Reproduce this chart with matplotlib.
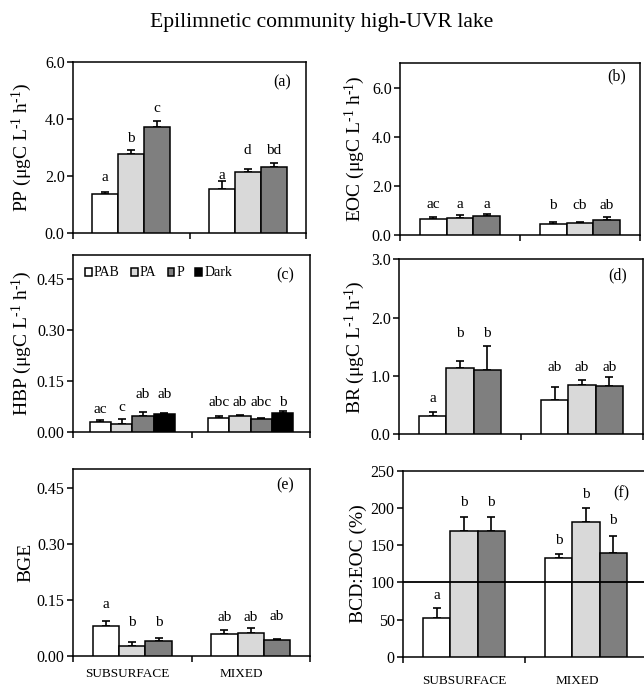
import matplotlib
matplotlib.use('Agg')
import matplotlib.pyplot as plt
from matplotlib.ticker import FormatStrFormatter, FixedLocator

plt.rcParams['font.family'] = ['Liberation Serif', 'DejaVu Serif']
plt.rcParams['mathtext.fontset'] = 'custom'
plt.rcParams['mathtext.rm'] = 'Liberation Serif'
plt.rcParams['mathtext.it'] = 'Liberation Serif:italic'

# ---------------- data ----------------
sites = ['SUBSURFACE', 'MIXED']
treat3 = ['PAB', 'PA', 'P']
treat4 = ['PAB', 'PA', 'P', 'Dark']

pp_mean = [[1.38, 2.78, 3.74], [1.55, 2.14, 2.34]]
pp_err = [[0.08, 0.15, 0.20], [0.28, 0.13, 0.13]]
pp_let = [['a', 'b', 'c'], ['a', 'd', 'bd']]
pp_let_y = [[1.85, 3.21, 4.25], [1.92, 2.78, 2.78]]

eoc_mean = [[0.65, 0.68, 0.77], [0.44, 0.49, 0.61]]
eoc_err = [[0.10, 0.12, 0.09], [0.07, 0.05, 0.14]]
eoc_let = [['ac', 'a', 'a'], ['b', 'cb', 'ab']]
eoc_let_y = [[1.11, 1.11, 1.11], [1.05, 1.05, 1.05]]

hbp_mean = [[0.029, 0.0225, 0.047, 0.051], [0.039, 0.047, 0.037, 0.056]]
hbp_err = [[0.005, 0.0135, 0.012, 0.005], [0.007, 0.003, 0.002, 0.0055]]
hbp_let = [['ac', 'c', 'ab', 'ab'], ['abc', 'ab', 'abc', 'b']]
hbp_let_y = [[0.056, 0.0615, 0.098, 0.098], [0.075, 0.075, 0.075, 0.075]]

br_mean = [[0.31, 1.14, 1.11], [0.59, 0.85, 0.82]]
br_err = [[0.07, 0.12, 0.40], [0.22, 0.08, 0.16]]
br_let = [['a', 'b', 'b'], ['ab', 'ab', 'ab']]
br_let_y = [[0.55, 1.66, 1.66], [1.09, 1.09, 1.09]]

bge_mean = [[0.079, 0.025, 0.039], [0.058, 0.060, 0.042]]
bge_err = [[0.015, 0.013, 0.008], [0.011, 0.014, 0.003]]
bge_let = [['a', 'b', 'b'], ['ab', 'ab', 'ab']]
bge_let_y = [[0.127, 0.079, 0.079], [0.093, 0.093, 0.096]]

bcd_mean = [[52.4, 169.4, 168.5], [132.2, 181.0, 139.0]]
bcd_err = [[13.5, 18.6, 19.3], [5.4, 18.4, 23.6]]
bcd_let = [['a', 'b', 'b'], ['b', 'b', 'b']]
bcd_let_y = [[77, 203, 203], [151, 213.7, 178]]
bcd_ref = 100

pp_ticks = [0, 2, 4, 6]
eoc_ticks = [0, 2, 4, 6]
hbp_ticks = [0, 0.15, 0.30, 0.45]
br_ticks = [0, 1, 2, 3]
bge_ticks = [0, 0.15, 0.30, 0.45]
bcd_ticks = [0, 50, 100, 150, 200, 250]

colors = {'PAB': 'white', 'PA': '#d9d9d9', 'P': '#7f7f7f', 'Dark': 'black'}

# ---------------- figure ----------------
W, H = 644, 687
fig = plt.figure(figsize=(W / 100, H / 100), dpi=100)


def px_axes(x0, x1, ytop, ybot):
    return fig.add_axes([x0 / W, 1 - ybot / H, (x1 - x0) / W, (ybot - ytop) / H])


def panel(rect, treats, means, errs, lets, let_y, ylim, ticks, fmt, ylabel,
          label_x, tag, tag_xy, width, xlab_pos=None, xlab_pad=9):
    ax = px_axes(*rect)
    n = len(treats)
    handles = []
    for gi in range(2):
        for ti, t in enumerate(treats):
            x = gi + 0.5 + (ti - (n - 1) / 2) * width
            b = ax.bar(x, means[gi][ti], width=width, color=colors[t],
                       edgecolor='black', linewidth=1.1, zorder=3,
                       label=t if gi == 0 else None)
            if gi == 0:
                handles.append(b)
            ax.errorbar(x, means[gi][ti], yerr=[[0], [errs[gi][ti]]], fmt='none',
                        ecolor='black', elinewidth=1.2, capsize=3, capthick=1.2,
                        zorder=2)
            ax.text(x, let_y[gi][ti], lets[gi][ti], ha='center', va='baseline',
                    fontsize=11)
    ax.set_xlim(0, 2)
    ax.set_ylim(*ylim)
    ax.set_yticks(ticks)
    ax.yaxis.set_major_formatter(FormatStrFormatter(fmt))
    ax.xaxis.set_major_locator(FixedLocator([0, 1, 2]))
    ax.set_xticklabels([])
    ax.tick_params(axis='both', direction='out', length=4, width=1.1,
                   labelsize=11.5, pad=2)
    if xlab_pos is not None:
        ax.set_xticks(xlab_pos, minor=True)
        ax.set_xticklabels(sites, minor=True)
        ax.tick_params(axis='x', which='minor', length=0, labelsize=9.5,
                       pad=xlab_pad)
    for s in ax.spines.values():
        s.set_linewidth(1.1)
    ax.set_ylabel(ylabel, fontsize=14)
    x0 = rect[0]
    ax.yaxis.set_label_coords((label_x - x0) / (rect[1] - x0), 0.5)
    fig.text(tag_xy[0] / W, 1 - tag_xy[1] / H, tag, ha='center', va='center',
             fontsize=11.5)
    return ax, handles


unit = ' (\u03bcgC L$^{\\text{-}1}$ h$^{\\text{-}1}$)'

panel((73, 306, 62.3, 233.3), treat3, pp_mean, pp_err, pp_let, pp_let_y,
      (0, 6), pp_ticks, '%.1f', 'PP' + unit, 34, '(a)', (281.7, 82.3), 0.223)
panel((400, 640, 63, 235), treat3, eoc_mean, eoc_err, eoc_let, eoc_let_y,
      (0, 7), eoc_ticks, '%.1f', 'EOC' + unit, 367, '(b)', (616.7, 76.7), 0.223)
axc, hc = panel((73, 310, 255, 431.7), treat4, hbp_mean, hbp_err, hbp_let, hbp_let_y,
                (0, 0.52), hbp_ticks, '%.2f', 'HBP' + unit, 34, '(c)', (285, 275), 0.18)
panel((399, 643, 259.3, 434.3), treat3, br_mean, br_err, br_let, br_let_y,
      (0, 3), br_ticks, '%.1f', 'BR' + unit, 367, '(d)', (618, 275), 0.223)
panel((73, 310, 469, 655.7), treat3, bge_mean, bge_err, bge_let, bge_let_y,
      (0, 0.5), bge_ticks, '%.2f', 'BGE', 34, '(e)', (285, 485), 0.223,
      xlab_pos=[0.46, 1.42], xlab_pad=9)
axf, _ = panel((403, 647, 470.7, 656.7), treat3, bcd_mean, bcd_err, bcd_let, bcd_let_y,
               (0, 250), bcd_ticks, '%d', 'BCD:EOC (%)', 367, '(f)', (621.7, 493.3),
               0.223, xlab_pos=[0.5, 1.43], xlab_pad=13)
axf.axhline(bcd_ref, color='black', linewidth=1.3, zorder=5)

axc.legend(handles=hc, labels=treat4, loc='center left',
           bbox_to_anchor=(85 / W, 1 - 273 / H), bbox_transform=fig.transFigure,
           ncol=4, frameon=False, fontsize=10, handlelength=0.5, handleheight=0.5,
           handletextpad=0.15, columnspacing=0.8, borderpad=0, borderaxespad=0)

fig.text(322 / W, 1 - 22 / H, 'Epilimnetic community high-UVR lake',
         ha='center', va='center', fontsize=15.6)

fig.savefig('out.png', dpi=100)
